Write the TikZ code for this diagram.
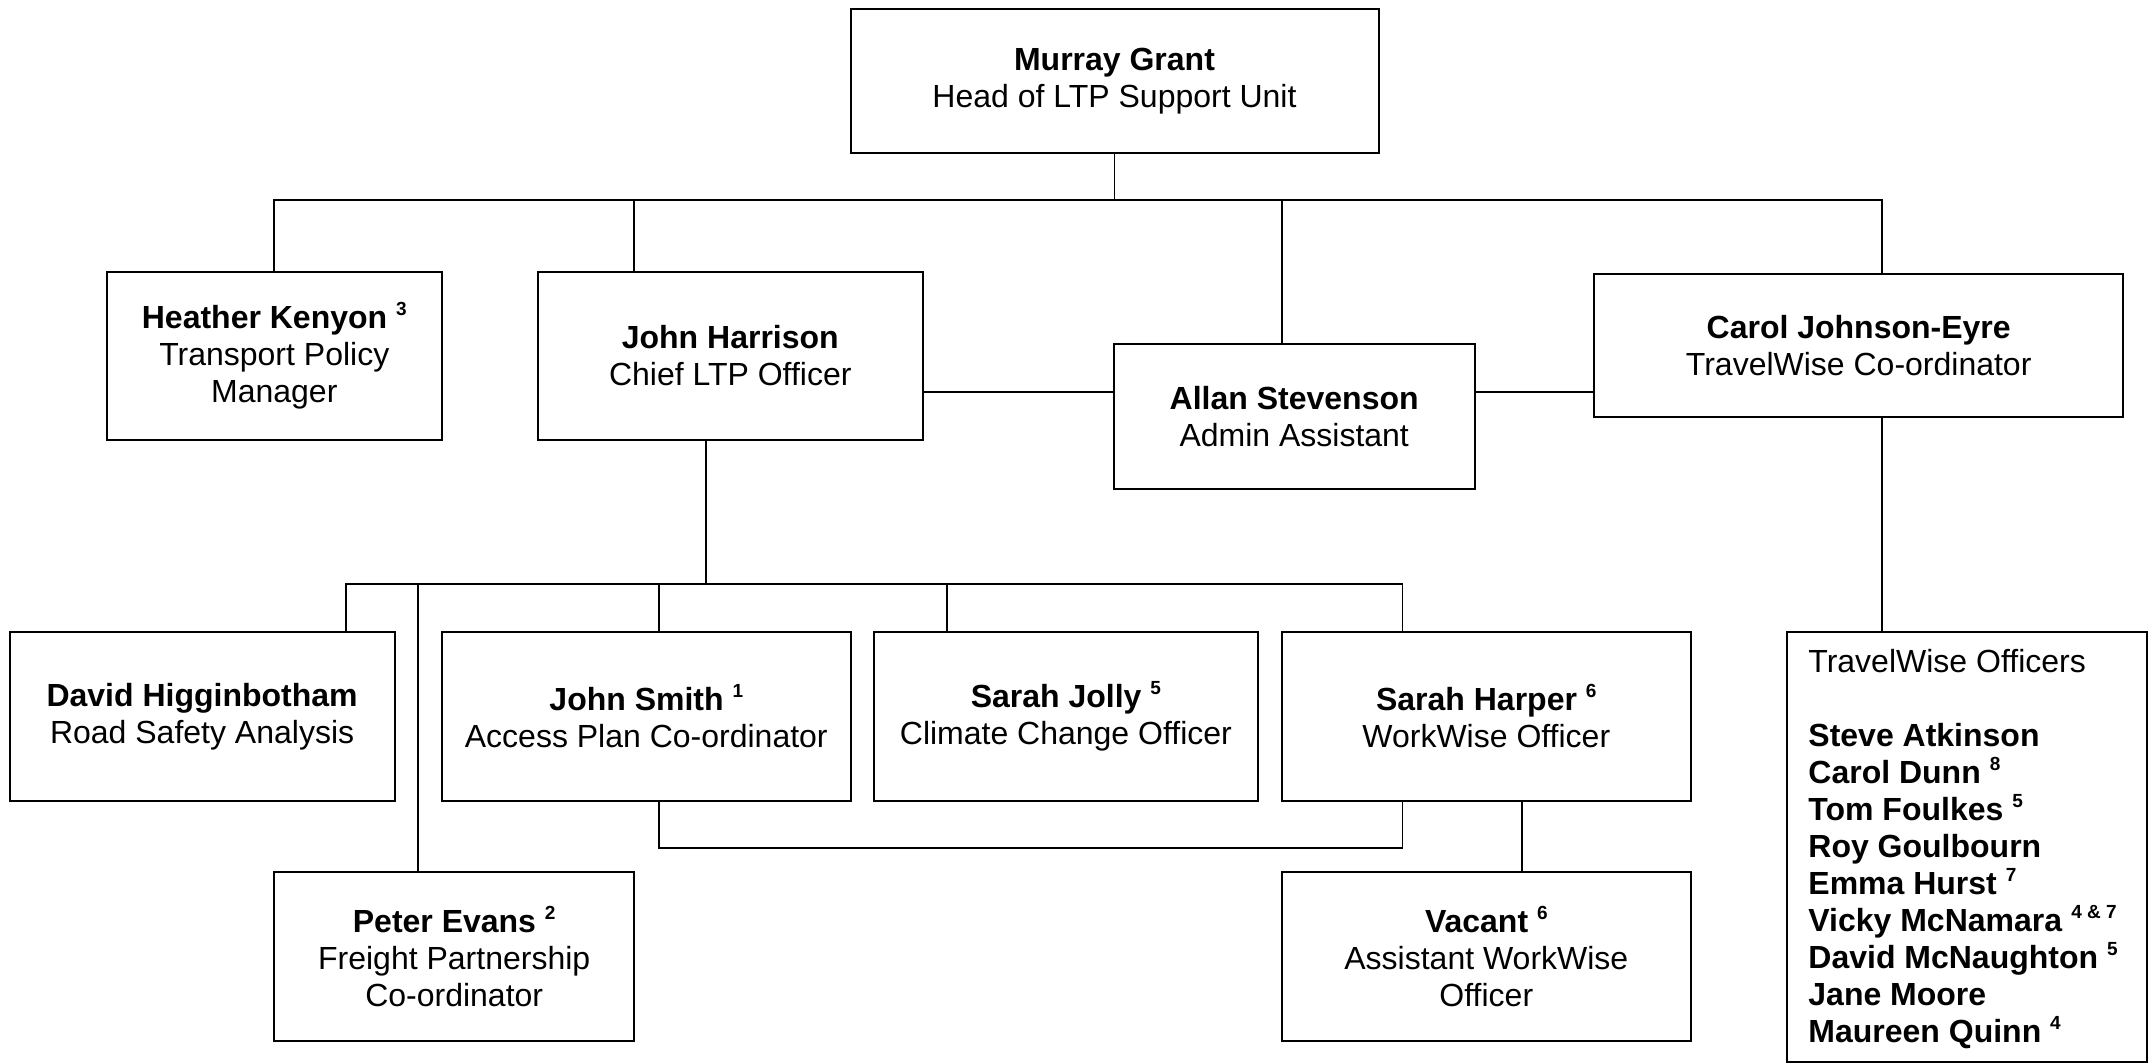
\documentclass[tikz,border=0pt]{standalone}
\usepackage{fontspec}
\setmainfont{Liberation Sans}
\newcommand\sups[1]{\raisebox{6.5pt}{\fontsize{9.5}{10}\selectfont\bfseries #1}}
\begin{document}
\begin{tikzpicture}[x=0.5pt,y=-0.5pt,
  box/.style={draw, line width=1pt, inner sep=0pt, align=center, font=\fontsize{16}{18.5}\selectfont},
  conn/.style={line width=0.9pt}]
\useasboundingbox (0,0) rectangle (2156,1064);
% boxes
\node[box, minimum width=264pt, minimum height=72.3pt] (murray) at (1114.5,81) {\textbf{Murray Grant}\\Head of LTP Support Unit};
\node[box, minimum width=167.7pt, minimum height=84pt] (heather) at (274.3,356) {\textbf{Heather Kenyon} \sups{3}\\Transport Policy\\Manager};
\node[box, minimum width=192.3pt, minimum height=84pt] (harrison) at (730.3,356) {\textbf{John Harrison}\\Chief LTP Officer};
\node[box, minimum width=180.5pt, minimum height=72.5pt] (allan) at (1294.2,416.2) {\textbf{Allan Stevenson}\\ Admin Assistant};
\node[box, minimum width=264.4pt, minimum height=71.6pt] (carol) at (1858.7,345.1) {\textbf{Carol Johnson-Eyre}\\TravelWise Co-ordinator};
\node[box, minimum width=192.5pt, minimum height=84.2pt] (david) at (202.1,716.5) {\textbf{David Higginbotham}\\Road Safety Analysis};
\node[box, minimum width=204.3pt, minimum height=84.2pt] (smith) at (646.3,716.5) {\textbf{John Smith} \sups{1}\\Access Plan Co-ordinator};
\node[box, minimum width=192.1pt, minimum height=84.2pt] (jolly) at (1065.9,716.5) {\textbf{Sarah Jolly} \sups{5}\\Climate Change Officer};
\node[box, minimum width=204.3pt, minimum height=84.2pt] (harper) at (1486.3,716.5) {\textbf{Sarah Harper} \sups{6}\\WorkWise Officer};
\node[box, minimum width=179.9pt, minimum height=84.3pt] (peter) at (454.2,956.7) {\textbf{Peter Evans} \sups{2}\\Freight Partnership\\Co-ordinator};
\node[box, minimum width=204.3pt, minimum height=84.3pt] (vacant) at (1486.3,956.7) {\textbf{Vacant} \sups{6}\\Assistant WorkWise\\Officer};
\node[draw, line width=1pt, inner sep=0pt, minimum width=180.1pt, minimum height=215pt] (tw) at (1966.9,847) {};
\node[anchor=base west, inner sep=0pt, align=left, font=\fontsize{16}{18.5}\selectfont] (twtext) at (1808,1042)
 {TravelWise Officers\\[18.5pt]
  \textbf{Steve Atkinson}\\
  \textbf{Carol Dunn} \sups{8}\\
  \textbf{Tom Foulkes} \sups{5}\\
  \textbf{Roy Goulbourn}\\
  \textbf{Emma Hurst} \sups{7}\\
  \textbf{Vicky McNamara} \sups{4 \& 7}\\
  \textbf{David McNaughton} \sups{5}\\
  \textbf{Jane Moore}\\
  \textbf{Maureen Quinn} \sups{4}};
% connectors level 1
\coordinate (b1c) at (1882,200);
\coordinate (jhdrop) at (634,200);
\coordinate (asdrop) at (1282,200);
\draw[conn] (murray.south) -- (murray.south |- b1c);
\draw[conn] (heather.north) |- (b1c) -- (b1c |- carol.north);
\draw[conn] (jhdrop) -- (jhdrop |- harrison.north);
\draw[conn] (asdrop) -- (asdrop |- allan.north);
\coordinate (mid) at (0,392);
\draw[conn] (harrison.east |- mid) -- (allan.west |- mid);
\draw[conn] (allan.east |- mid) -- (carol.west |- mid);
% level 2
\coordinate (jhbot) at (706,440);
\coordinate (b2L) at (346,584);
\coordinate (b2R) at (1402.5,584);
\draw[conn] (jhbot) -- (jhbot |- b2L);
\draw[conn] (b2L |- david.north) -- (b2L) -- (b2R) -- (b2R |- harper.north);
\coordinate (pdrop) at (418,584);
\draw[conn] (pdrop) -- (pdrop |- peter.north);
\coordinate (sdrop) at (658.6,584);
\draw[conn] (sdrop) -- (sdrop |- smith.north);
\coordinate (jdrop) at (946.7,584);
\draw[conn] (jdrop) -- (jdrop |- jolly.north);
\coordinate (lowL) at (658.6,848);
\draw[conn] (lowL |- smith.south) -- (lowL) -- (lowL -| b2R) -- (b2R |- harper.south);
\coordinate (vdrop) at (1522,0);
\draw[conn] (vdrop |- harper.south) -- (vdrop |- vacant.north);
\draw[conn] (b1c |- carol.south) -- (b1c |- tw.north);
\end{tikzpicture}
\end{document}
